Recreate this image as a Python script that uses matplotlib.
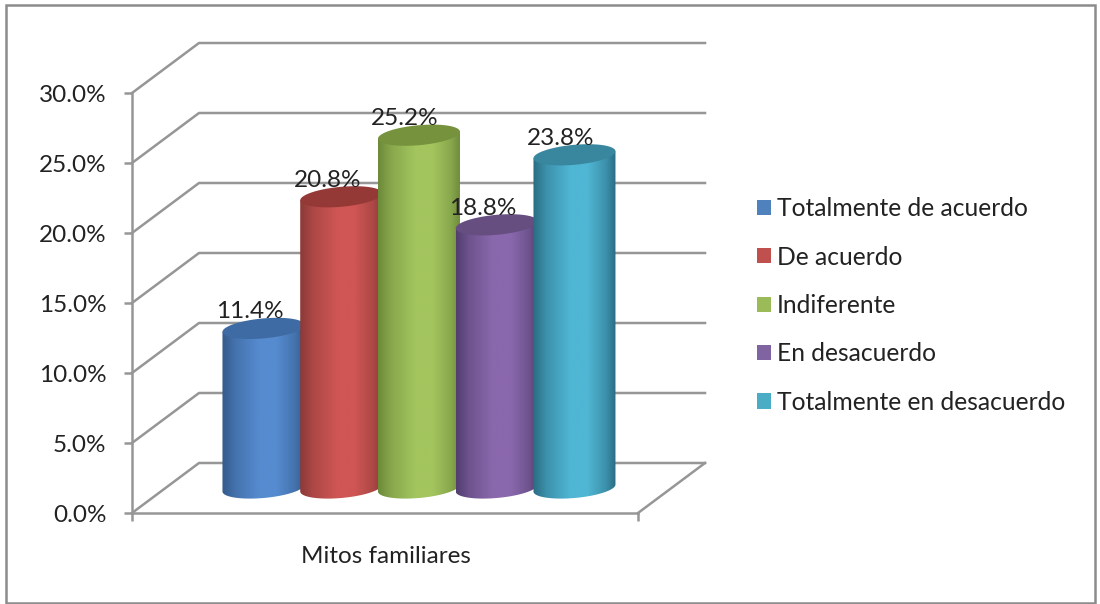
#!/usr/bin/env python

import numpy as np
import matplotlib
matplotlib.use("Agg")
import matplotlib.pyplot as plt
from matplotlib.colors import LinearSegmentedColormap, to_rgb
from matplotlib.patches import Patch, Polygon, Rectangle

categories = ["Totalmente de acuerdo", "De acuerdo", "Indiferente",
              "En desacuerdo", "Totalmente en desacuerdo"]
values = [11.4, 20.8, 25.2, 18.8, 23.8]
group_label = "Mitos familiares"
y_ticks = [0, 5, 10, 15, 20, 25, 30]

legend_colors = ["#4F81BD", "#C0504D", "#9BBB59", "#8064A2", "#4BACC6"]
edge_colors = ["#335A8A", "#8A3A38", "#6C8A3A", "#523E6E", "#2A6C82"]
light_colors = ["#568BD0", "#CF5654", "#A3C55E", "#8A68AD", "#4FB6D4"]
top_colors = ["#3E6BA3", "#953937", "#76923C", "#664E80", "#38879F"]

GRID = "#969696"
TEXT = "#222222"
FONT = 17.5
WIDTH, HEIGHT = 1100, 604

# one category step is 77.75 px, one percent is 14 px
STEP_PX, PCT_PX = 77.75, 14.0
X_LIM = (-1.26, 5.248)
DEPTH_X, DEPTH_Y = 67 / STEP_PX, 50 / PCT_PX


def mix(a, b, amount):
    return tuple(np.array(to_rgb(a)) * (1 - amount) + np.array(to_rgb(b)) * amount)


def draw_cylinder(ax, i, value, zorder):
    width = 82 / STEP_PX
    tilt, flat = 3.5 / PCT_PX, 10 / PCT_PX
    x = i + DEPTH_X / 2
    y0 = DEPTH_Y / 2
    y1 = value + DEPTH_Y / 2

    # body: lower half of the base ellipse joined to the top rim
    t = np.linspace(np.pi, 2 * np.pi, 40)
    low_x = x + width / 2 * np.cos(t)
    low_y = y0 + tilt * np.cos(t) + flat * np.sin(t)
    body = np.vstack([np.column_stack([low_x, low_y]),
                      [[x + width / 2, y1 + tilt]],
                      [[x - width / 2, y1 - tilt]]])
    clip = Polygon(body, closed=True, transform=ax.transData)

    edge, light = edge_colors[i], light_colors[i]
    mid = mix(edge, light, 0.5)
    cmap = LinearSegmentedColormap.from_list(
        "cyl", [(0, edge), (0.16, mid), (0.45, light),
                (0.66, light), (0.88, mid), (1, edge)])
    shade = np.linspace(0, 1, 256).reshape(1, -1)
    im = ax.imshow(shade, cmap=cmap, aspect="auto", zorder=zorder,
                   extent=(x - width / 2, x + width / 2, y0 - 1, y1 + 1))
    im.set_clip_path(clip)

    t = np.linspace(0, 2 * np.pi, 80)
    ax.fill(x + width / 2 * np.cos(t),
            y1 + tilt * np.cos(t) + flat * np.sin(t),
            color=top_colors[i], lw=0, zorder=zorder + 0.1, clip_on=False)


def main():
    plt.rcParams["font.family"] = ["Lato", "DejaVu Sans"]
    fig = plt.figure(figsize=(WIDTH / 100, HEIGHT / 100), dpi=100)
    ax = fig.add_axes([132 / WIDTH, (HEIGHT - 513) / HEIGHT,
                       506 / WIDTH, 420 / HEIGHT])
    ax.patch.set_alpha(0)

    fig.add_artist(Rectangle((6 / WIDTH, 1 / HEIGHT), 1089 / WIDTH, 598 / HEIGHT,
                             transform=fig.transFigure, fill=False,
                             edgecolor="#8C8C8C", lw=1.8))

    # floor and walls
    for tick in y_ticks:
        ax.plot([X_LIM[0], X_LIM[0] + DEPTH_X, X_LIM[1] + DEPTH_X],
                [tick, tick + DEPTH_Y, tick + DEPTH_Y],
                color=GRID, lw=1.8, clip_on=False, zorder=1)
    ax.plot([X_LIM[1], X_LIM[1] + DEPTH_X], [0, DEPTH_Y],
            color=GRID, lw=1.8, clip_on=False, zorder=1)

    for i, value in enumerate(values):
        draw_cylinder(ax, i, value, 2 + i)

    for i, value in enumerate(values):
        ax.annotate("{:.1f}%".format(value),
                    (i + DEPTH_X / 2, value + DEPTH_Y / 2),
                    xytext=(-10, 12), textcoords="offset points",
                    ha="center", va="center", fontsize=FONT, color=TEXT,
                    zorder=10, annotation_clip=False)

    ax.set_xlim(*X_LIM)
    ax.set_ylim(0, 30)

    for side in ("top", "right"):
        ax.spines[side].set_visible(False)
    for side in ("left", "bottom"):
        ax.spines[side].set_color(GRID)
        ax.spines[side].set_linewidth(1.8)

    ax.set_yticks(y_ticks)
    ax.set_yticklabels(["{:.1f}%".format(t) for t in y_ticks])
    ax.tick_params(axis="y", length=6, width=1.8, color=GRID, pad=12.5,
                   labelsize=FONT, labelcolor=TEXT)
    ax.set_xticks(list(X_LIM))
    ax.set_xticklabels(["", ""])
    ax.tick_params(axis="x", which="major", length=6, width=1.8, color=GRID)
    ax.set_xticks([2], minor=True)
    ax.set_xticklabels([group_label], minor=True)
    ax.tick_params(axis="x", which="minor", length=0, pad=24,
                   labelsize=FONT, labelcolor=TEXT)

    handles = [Patch(facecolor=c, edgecolor="none") for c in legend_colors]
    fig.legend(handles, categories, loc="center left",
               bbox_to_anchor=(757 / WIDTH, (HEIGHT - 305.5) / HEIGHT),
               frameon=False, fontsize=17.75, labelcolor=TEXT,
               handlelength=0.57, handleheight=0.57, handletextpad=0.25,
               labelspacing=1.03, borderpad=0, borderaxespad=0)

    fig.savefig("out.png", dpi=100)


if __name__ == "__main__":
    main()
